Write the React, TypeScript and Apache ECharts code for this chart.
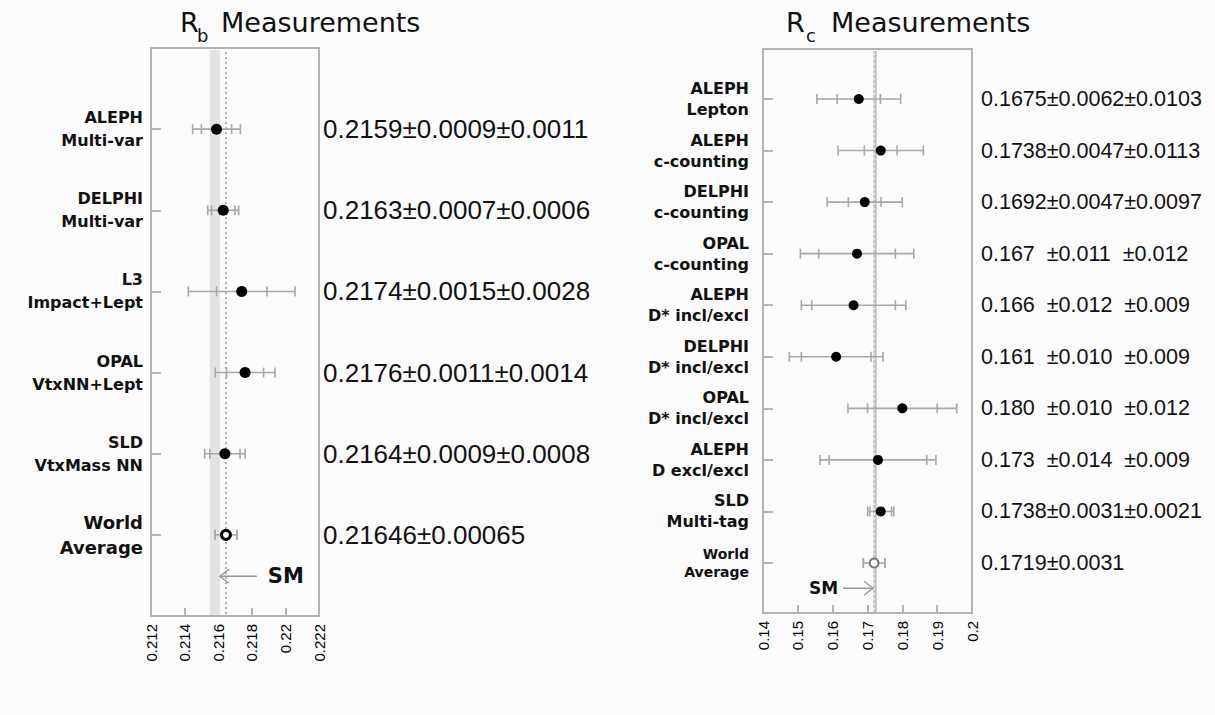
import React, { useEffect, useRef } from "react";
import * as echarts from "echarts";

// ---------- R_b data ----------
const rbExperiments = ["ALEPH", "DELPHI", "L3", "OPAL", "SLD", "World"];
const rbMethods = ["Multi-var", "Multi-var", "Impact+Lept", "VtxNN+Lept", "VtxMass NN", "Average"];
const rbValues = [0.2159, 0.2163, 0.2174, 0.2176, 0.2164, 0.21646];
const rbStat = [0.0009, 0.0007, 0.0015, 0.0011, 0.0009, 0.00065];
const rbSyst = [0.0011, 0.0006, 0.0028, 0.0014, 0.0008, 0];
const rbTexts = [
  "0.2159±0.0009±0.0011",
  "0.2163±0.0007±0.0006",
  "0.2174±0.0015±0.0028",
  "0.2176±0.0011±0.0014",
  "0.2164±0.0009±0.0008",
  "0.21646±0.00065",
];
const rbTickLabels = ["0.212", "0.214", "0.216", "0.218", "0.22", "0.222"];
const rbSmBand = [0.2155, 0.2161];
const rbAverageLine = 0.21646;
const rbSmArrow = [0.2183, 0.2161, 5.51];

// ---------- R_c data ----------
const rcExperiments = ["ALEPH", "ALEPH", "DELPHI", "OPAL", "ALEPH", "DELPHI", "OPAL", "ALEPH", "SLD", "World"];
const rcMethods = [
  "Lepton",
  "c-counting",
  "c-counting",
  "c-counting",
  "D* incl/excl",
  "D* incl/excl",
  "D* incl/excl",
  "D excl/excl",
  "Multi-tag",
  "Average",
];
const rcValues = [0.1675, 0.1738, 0.1692, 0.167, 0.166, 0.161, 0.18, 0.173, 0.1738, 0.1719];
const rcStat = [0.0062, 0.0047, 0.0047, 0.011, 0.012, 0.01, 0.01, 0.014, 0.0031, 0.0031];
const rcSyst = [0.0103, 0.0113, 0.0097, 0.012, 0.009, 0.009, 0.012, 0.009, 0.0021, 0];
const rcTexts = [
  "0.1675±0.0062±0.0103",
  "0.1738±0.0047±0.0113",
  "0.1692±0.0047±0.0097",
  "0.167  ±0.011  ±0.012",
  "0.166  ±0.012  ±0.009",
  "0.161  ±0.010  ±0.009",
  "0.180  ±0.010  ±0.012",
  "0.173  ±0.014  ±0.009",
  "0.1738±0.0031±0.0021",
  "0.1719±0.0031",
];
const rcTickLabels = ["0.14", "0.15", "0.16", "0.17", "0.18", "0.19", "0.2"];
const rcSmBand = [0.17165, 0.17265];
const rcAverageLine = 0.1719;
const rcSmArrow = [0.163, 0.1716, 9.49];

// ---------- styles ----------
const FRAME = "#b4b4b4";
const BAR = "#a8a8a8";
const INK = "#111111";
const SANS = "'Liberation Sans', Arial, sans-serif";
const WIDE = "'DejaVu Sans', sans-serif";

const rowIdx = (arr: any[]) => arr.map((_, i) => i);

function errorBars(xi: number, yi: number, vals: number[], stat: number[], syst: number[], cap: number) {
  return {
    type: "custom",
    xAxisIndex: xi,
    yAxisIndex: yi,
    z: 3,
    silent: true,
    encode: { x: 0, y: 1 },
    data: vals.map((v, i) => [v, i, stat[i], Math.sqrt(stat[i] * stat[i] + syst[i] * syst[i])]),
    renderItem: (_p: any, api: any) => {
      const c = api.value(0);
      const r = api.value(1);
      const s = api.value(2);
      const t = api.value(3);
      const pl = api.coord([c - t, r]);
      const pr = api.coord([c + t, r]);
      const sl = api.coord([c - s, r]);
      const sr = api.coord([c + s, r]);
      const y = pl[1];
      const style = { stroke: BAR, lineWidth: 1.6 };
      const capLine = (x: number) => ({
        type: "line",
        shape: { x1: x, y1: y - cap, x2: x, y2: y + cap },
        style,
      });
      return {
        type: "group",
        children: [
          { type: "line", shape: { x1: pl[0], y1: y, x2: pr[0], y2: y }, style },
          capLine(pl[0]),
          capLine(pr[0]),
          capLine(sl[0]),
          capLine(sr[0]),
        ],
      };
    },
  };
}

function smArrow(xi: number, yi: number, arrow: number[], textLeft: boolean, font: string) {
  return {
    type: "custom",
    xAxisIndex: xi,
    yAxisIndex: yi,
    z: 3,
    silent: true,
    encode: { x: [0, 1], y: 2 },
    data: [arrow],
    renderItem: (_p: any, api: any) => {
      const p0 = api.coord([api.value(0), api.value(2)]);
      const p1 = api.coord([api.value(1), api.value(2)]);
      const dir = p1[0] > p0[0] ? 1 : -1;
      const style = { stroke: "#999", lineWidth: 1.5, fill: "none" };
      return {
        type: "group",
        children: [
          { type: "line", shape: { x1: p0[0], y1: p0[1], x2: p1[0], y2: p1[1] }, style },
          {
            type: "polyline",
            shape: {
              points: [
                [p1[0] - dir * 9, p1[1] - 7],
                [p1[0], p1[1]],
                [p1[0] - dir * 9, p1[1] + 7],
              ],
            },
            style,
          },
          {
            type: "text",
            x: textLeft ? p0[0] - 5 : p0[0] + 11,
            y: p0[1],
            style: {
              text: "SM",
              font,
              fill: INK,
              align: textLeft ? "right" : "left",
              verticalAlign: "middle",
            },
          },
        ],
      };
    },
  };
}

function bandSeries(xi: number, yi: number, band: number[], line: number, bandColor: string, lineColor: string) {
  return {
    type: "custom",
    xAxisIndex: xi,
    yAxisIndex: yi,
    z: 1,
    silent: true,
    encode: { x: [0, 1, 2], y: 3 },
    data: [[band[0], band[1], line, 0]],
    renderItem: (params: any, api: any) => {
      const cs = params.coordSys;
      const a = api.coord([api.value(0), api.value(3)])[0];
      const b = api.coord([api.value(1), api.value(3)])[0];
      const l = api.coord([api.value(2), api.value(3)])[0];
      const top = cs.y + 2;
      const bottom = cs.y + cs.height - 1;
      return {
        type: "group",
        children: [
          {
            type: "rect",
            shape: { x: a, y: top, width: b - a, height: bottom - top },
            style: { fill: bandColor },
          },
          {
            type: "line",
            shape: { x1: l, y1: top + 2, x2: l, y2: bottom },
            style: { stroke: lineColor, lineWidth: 1.5, lineDash: [2, 3] },
          },
        ],
      };
    },
  };
}

function markers(xi: number, yi: number, vals: number[], size: number, waStyle: any) {
  return {
    type: "scatter",
    xAxisIndex: xi,
    yAxisIndex: yi,
    z: 4,
    silent: true,
    symbol: "circle",
    symbolSize: size,
    itemStyle: { color: "#000", opacity: 1 },
    data: vals.map((v, i) =>
      i === vals.length - 1 ? { value: [v, i], ...waStyle } : { value: [v, i] }
    ),
  };
}

const axisLineStyle = { show: true, onZero: false, lineStyle: { color: FRAME, width: 2 } };

function xAxisOf(grid: number, min: number, max: number, interval: number, labels: string[]) {
  return {
    type: "value",
    gridIndex: grid,
    position: "bottom",
    min,
    max,
    interval,
    axisLine: axisLineStyle,
    axisTick: { show: true, inside: true, length: 8, lineStyle: { color: FRAME, width: 2 } },
    splitLine: { show: false },
    axisLabel: {
      rotate: 90,
      margin: 8,
      fontSize: 15,
      fontFamily: SANS,
      color: "#000",
      formatter: (_v: number, idx: number) => labels[idx] ?? "",
    },
  };
}

function leftYAxis(grid: number, min: number, max: number, exps: string[], meths: string[], opts: any) {
  const n = exps.length;
  return {
    type: "value",
    gridIndex: grid,
    position: "left",
    inverse: true,
    min,
    max,
    axisLine: axisLineStyle,
    splitLine: { show: false },
    axisTick: {
      show: true,
      inside: true,
      length: 10,
      customValues: rowIdx(exps),
      lineStyle: { color: FRAME, width: 2 },
    },
    axisLabel: {
      customValues: rowIdx(exps),
      margin: opts.margin,
      align: "right",
      formatter: (v: number) => {
        const i = Math.round(v);
        const tag = i === n - 1 ? "w" : "n";
        return `{${tag}|${exps[i]}}\n{${tag}|${meths[i]}}`;
      },
      rich: {
        n: {
          fontFamily: WIDE,
          fontWeight: "bold",
          fontSize: opts.size,
          lineHeight: opts.lh,
          color: INK,
          align: "right",
        },
        w: {
          fontFamily: WIDE,
          fontWeight: "bold",
          fontSize: opts.waSize,
          lineHeight: opts.waLh,
          color: INK,
          align: "right",
        },
      },
    },
  };
}

function rightYAxis(grid: number, min: number, max: number, texts: string[], size: number, margin: number) {
  return {
    type: "value",
    gridIndex: grid,
    position: "right",
    inverse: true,
    min,
    max,
    axisLine: axisLineStyle,
    splitLine: { show: false },
    axisTick: { show: false },
    axisLabel: {
      customValues: rowIdx(texts),
      margin,
      fontFamily: SANS,
      fontSize: size,
      color: INK,
      formatter: (v: number) => texts[Math.round(v)] ?? "",
    },
  };
}

const titleFont = (s: number) => `${s}px ${WIDE}`;

const option: any = {
  animation: false,
  backgroundColor: "#fbfbfb",
  grid: [
    { left: 151, top: 48, width: 168, height: 568, show: true, borderColor: FRAME, borderWidth: 2, backgroundColor: "transparent" },
    { left: 763, top: 49, width: 209, height: 564, show: true, borderColor: FRAME, borderWidth: 2, backgroundColor: "transparent" },
  ],
  xAxis: [
    xAxisOf(0, 0.212, 0.222, 0.002, rbTickLabels),
    xAxisOf(1, 0.14, 0.2, 0.01, rcTickLabels),
  ],
  yAxis: [
    leftYAxis(0, -1, 6, rbExperiments, rbMethods, { margin: 8, size: 16, lh: 23, waSize: 18, waLh: 25 }),
    rightYAxis(0, -1, 6, rbTexts, 26, 4),
    leftYAxis(1, -0.97, 9.97, rcExperiments, rcMethods, { margin: 14, size: 16, lh: 21, waSize: 14, waLh: 18 }),
    rightYAxis(1, -0.97, 9.97, rcTexts, 21.5, 9),
  ],
  graphic: [
    { type: "text", x: 180, y: 22, style: { text: "R", font: titleFont(27), fill: INK, verticalAlign: "middle" } },
    { type: "text", x: 197, y: 35, style: { text: "b", font: titleFont(18), fill: INK, verticalAlign: "middle" } },
    { type: "text", x: 221, y: 22, style: { text: "Measurements", font: titleFont(27), fill: INK, verticalAlign: "middle" } },
    { type: "text", x: 786, y: 22, style: { text: "R", font: titleFont(27), fill: INK, verticalAlign: "middle" } },
    { type: "text", x: 806, y: 35, style: { text: "c", font: titleFont(18), fill: INK, verticalAlign: "middle" } },
    { type: "text", x: 831, y: 22, style: { text: "Measurements", font: titleFont(27), fill: INK, verticalAlign: "middle" } },
  ],
  series: [
    bandSeries(0, 0, rbSmBand, rbAverageLine, "#e3e3e3", "#999"),
    errorBars(0, 0, rbValues, rbStat, rbSyst, 5),
    markers(0, 0, rbValues, 11, {
      symbolSize: 9,
      itemStyle: { color: "#fff", borderColor: "#000", borderWidth: 3 },
    }),
    smArrow(0, 0, rbSmArrow, false, `bold 21px ${WIDE}`),

    bandSeries(1, 2, rcSmBand, rcAverageLine, "#c2c2c2", "#f2f2f2"),
    errorBars(1, 2, rcValues, rcStat, rcSyst, 5),
    markers(1, 2, rcValues, 10, {
      symbolSize: 9,
      itemStyle: { color: "#fff", borderColor: "#777", borderWidth: 2 },
    }),
    smArrow(1, 2, rcSmArrow, true, `bold 17px ${WIDE}`),
  ],
};

export default function App() {
  const ref = useRef<HTMLDivElement>(null);
  useEffect(() => {
    if (!ref.current) return;
    const chart = echarts.init(ref.current, null, { renderer: "svg" });
    chart.setOption(option);
    return () => chart.dispose();
  }, []);
  return (
    <div
      ref={ref}
      style={{ position: "fixed", left: 0, top: 0, width: 1215, height: 715 }}
    />
  );
}
